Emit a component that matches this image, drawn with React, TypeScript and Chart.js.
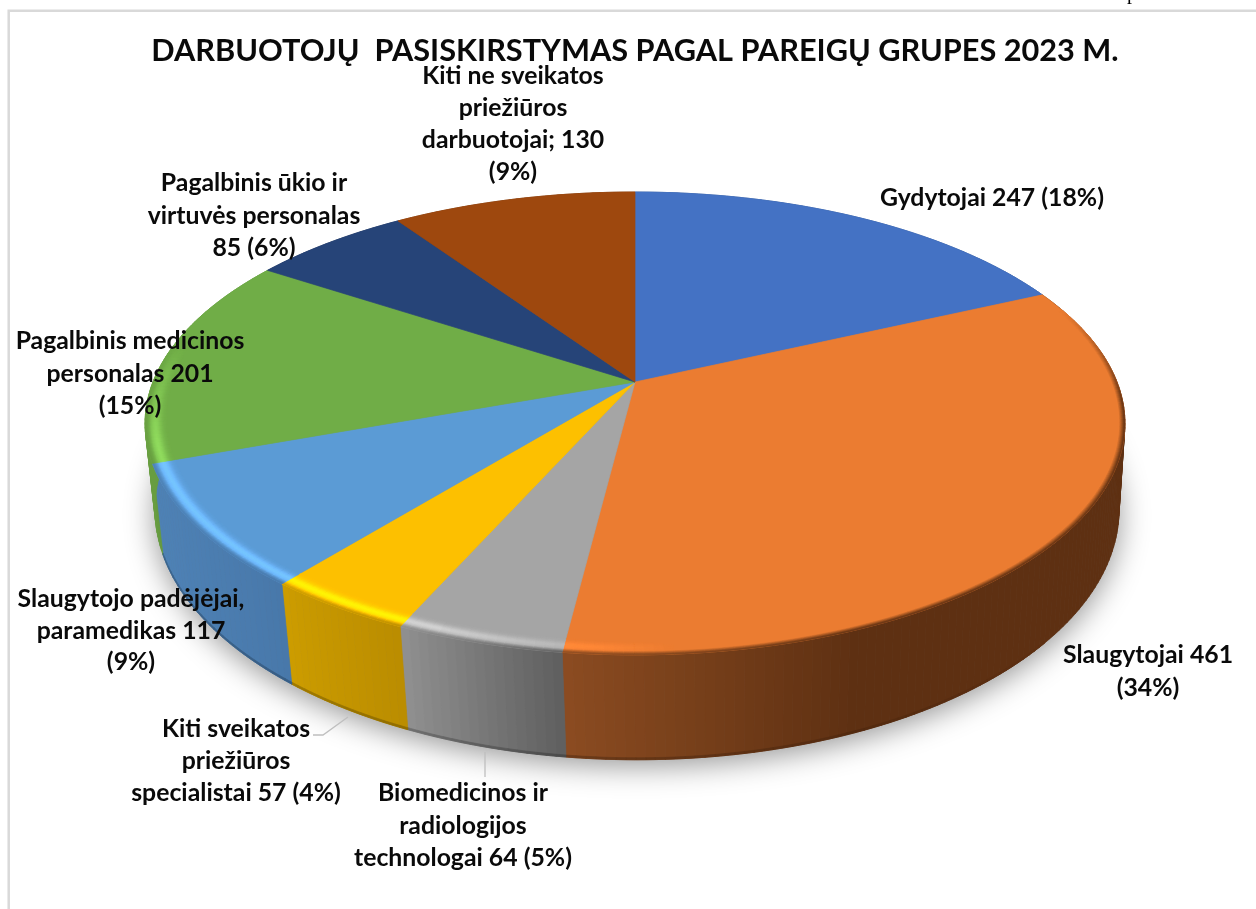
import React, { useEffect, useRef } from "react";
import { Chart, registerables } from "chart.js";

Chart.register(...registerables);

const categories = [
  "Gydytojai",
  "Slaugytojai",
  "Biomedicinos ir radiologijos technologai",
  "Kiti sveikatos priežiūros specialistai",
  "Slaugytojo padėjėjai, paramedikas",
  "Pagalbinis medicinos personalas",
  "Pagalbinis ūkio ir virtuvės personalas",
  "Kiti ne sveikatos priežiūros darbuotojai",
];
const values = [247, 461, 64, 57, 117, 201, 85, 130];
const topColors = ["#4472C4", "#EB7C31", "#A5A5A5", "#FDC000", "#5B9BD5", "#70AD47", "#264478", "#9E480E"];
const titleText = "DARBUOTOJŲ  PASISKIRSTYMAS PAGAL PAREIGŲ GRUPES 2023 M.";
const labelLines = [
  ["Gydytojai 247 (18%)"],
  ["Slaugytojai 461", "(34%)"],
  ["Biomedicinos ir", "radiologijos", "technologai 64 (5%)"],
  ["Kiti sveikatos", "priežiūros", "specialistai 57 (4%)"],
  ["Slaugytojo padėjėjai,", "paramedikas 117", "(9%)"],
  ["Pagalbinis medicinos", "personalas 201", "(15%)"],
  ["Pagalbinis ūkio ir", "virtuvės personalas", "85 (6%)"],
  ["Kiti ne sveikatos", "priežiūros", "darbuotojai; 130", "(9%)"],
];

// ---- styling / layout tables ----
const FONT = "Lato, Carlito, 'Open Sans', sans-serif";
const LABEL_SIZE = 24.8;
const labelPos = [
  { x: 992, y: 206, dy: 32 },
  { x: 1148, y: 663, dy: 33 },
  { x: 463, y: 801, dy: 32.5 },
  { x: 236, y: 737, dy: 32 },
  { x: 131, y: 607, dy: 31.5 },
  { x: 130, y: 349, dy: 32.5 },
  { x: 254, y: 191, dy: 32.5 },
  { x: 513, y: 84, dy: 32 },
];
const topDisk = { cx: 635, cy: 382, c: 482, b: 224, k: -0.179 };
const baseDisk = { cx: 637, cy: 467, c: 475, b: 243, k: -0.17 };
// side shade per slice: [xLeft, rgbLeft, xRight, rgbRight]
const sideShade: [number, number[], number, number[]][] = [
  [0, [50, 84, 145], 1256, [50, 84, 145]],
  [565, [140, 76, 33], 860, [94, 48, 18]],
  [405, [145, 145, 145], 565, [96, 96, 96]],
  [290, [204, 156, 0], 408, [186, 140, 0]],
  [153, [78, 130, 182], 290, [72, 120, 170]],
  [145, [106, 160, 66], 170, [96, 150, 60]],
  [0, [28, 50, 88], 1256, [28, 50, 88]],
  [0, [118, 54, 10], 1256, [118, 54, 10]],
];

const hexRgb = (h: string) => [1, 3, 5].map((i) => parseInt(h.slice(i, i + 2), 16));
const css = (c: number[]) => `rgb(${c.map((v) => Math.round(Math.min(255, Math.max(0, v)))).join(",")})`;
const mix = (a: number[], b: number[], t: number) => a.map((v, i) => v + (b[i] - v) * t);
const clamp01 = (t: number) => Math.max(0, Math.min(1, t));

function proj(d: typeof topDisk, a: number, r = 1) {
  const X = r * Math.cos(a);
  const Y = r * Math.sin(a);
  const den = 1 + d.k * Y;
  return { x: d.cx + (d.c * X) / den, y: d.cy + (d.b * Y) / den };
}
function sideColor(i: number, x: number) {
  const [x0, c0, x1, c1] = sideShade[i];
  return mix(c0, c1, clamp01((x - x0) / (x1 - x0)));
}
// strength of the bevel highlight, by clockwise degrees from the top of the pie
function glow(deg: number) {
  if (deg < 176 || deg > 280) return 0;
  if (deg < 200) return ((deg - 176) / 24) * 0.22;
  if (deg < 255) return 0.24;
  return ((280 - deg) / 25) * 0.24;
}
function edgeWeight(deg: number) {
  if (deg < 70 || deg > 280) return 0;
  if (deg < 95) return (deg - 70) / 25;
  if (deg > 262) return (280 - deg) / 18;
  return 1;
}

function quad(ctx: CanvasRenderingContext2D, p: { x: number; y: number }[], color: string) {
  ctx.beginPath();
  p.forEach((q, n) => (n ? ctx.lineTo(q.x, q.y) : ctx.moveTo(q.x, q.y)));
  ctx.closePath();
  ctx.fillStyle = color;
  ctx.strokeStyle = color;
  ctx.lineWidth = 0.7;
  ctx.fill();
  ctx.stroke();
}

const pie3d = {
  id: "pie3d",
  beforeDraw(chart: any) {
    const ctx: CanvasRenderingContext2D = chart.ctx;
    ctx.save();
    ctx.fillStyle = "#fff";
    ctx.fillRect(0, 0, chart.width, chart.height);
    ctx.strokeStyle = "#d9d9d9";
    ctx.lineWidth = 2.5;
    ctx.beginPath();
    ctx.moveTo(8.7, 909);
    ctx.lineTo(8.7, 10.7);
    ctx.lineTo(1256, 10.7);
    ctx.stroke();
    ctx.fillStyle = "#000";
    ctx.font = "20px 'Liberation Serif'";
    ctx.textAlign = "center";
    ctx.textBaseline = "alphabetic";
    ctx.fillText("p", 1132, -1);
    ctx.restore();
  },
  beforeDatasetsDraw(chart: any) {
    const ctx: CanvasRenderingContext2D = chart.ctx;
    const arcs = chart.getDatasetMeta(0).data;
    const STEP = Math.PI / 180;
    const samples = (arc: any) => {
      const { startAngle, endAngle } = arc.getProps(["startAngle", "endAngle"], true);
      const n = Math.max(2, Math.ceil((endAngle - startAngle) / STEP));
      return Array.from({ length: n + 1 }, (_, j) => startAngle + ((endAngle - startAngle) * j) / n);
    };
    const degOf = (a: number) => (((a + Math.PI / 2) * 180) / Math.PI + 720) % 360;

    ctx.save();
    // soft ground shadow
    ctx.save();
    ctx.shadowColor = "rgba(0,0,0,0.42)";
    ctx.shadowBlur = 30;
    ctx.shadowOffsetY = 6;
    ctx.beginPath();
    for (let d = 0; d < 360; d += 2) {
      const p = proj(baseDisk, (d * Math.PI) / 180);
      d ? ctx.lineTo(p.x, p.y) : ctx.moveTo(p.x, p.y);
    }
    ctx.closePath();
    ctx.fillStyle = "#777";
    ctx.fill();
    ctx.restore();

    // outer walls
    arcs.forEach((arc: any, i: number) => {
      const as = samples(arc);
      for (let j = 0; j + 1 < as.length; j++) {
        const a = proj(topDisk, as[j]);
        const b = proj(topDisk, as[j + 1]);
        const c = proj(baseDisk, as[j + 1]);
        const d = proj(baseDisk, as[j]);
        quad(ctx, [a, b, c, d], css(sideColor(i, (a.x + d.x) / 2)));
      }
    });
    // dark foot of the wall
    arcs.forEach((arc: any, i: number) => {
      const as = samples(arc);
      for (let j = 0; j + 1 < as.length; j++) {
        const w = clamp01((degOf(as[j]) - 130) / 50) * (degOf(as[j]) < 250 ? 1 : 0);
        if (!w) continue;
        const c = proj(baseDisk, as[j]);
        const d = proj(baseDisk, as[j + 1]);
        const col = mix(sideColor(i, c.x), [0, 0, 0], 0.22 * w);
        quad(ctx, [c, d, { x: d.x, y: d.y - 2 }, { x: c.x, y: c.y - 2 }], css(col));
      }
    });

    // top faces
    arcs.forEach((arc: any, i: number) => {
      const color = css(hexRgb(topColors[i]));
      const pts = [{ x: topDisk.cx, y: topDisk.cy }, ...samples(arc).map((a) => proj(topDisk, a))];
      quad(ctx, pts, color);
    });

    // bevel along the rim
    const BANDS = 24;
    const R0 = 0.952;
    arcs.forEach((arc: any, i: number) => {
      const base = hexRgb(topColors[i]);
      const as = samples(arc);
      for (let j = 0; j + 1 < as.length; j++) {
        const deg = degOf((as[j] + as[j + 1]) / 2);
        const w = edgeWeight(deg);
        if (!w) continue;
        const g = glow(deg);
        for (let b = 0; b < BANDS; b++) {
          const r0 = R0 + ((1 - R0) * b) / BANDS;
          const r1 = R0 + ((1 - R0) * (b + 1)) / BANDS;
          const r = (r0 + r1) / 2;
          const e = 1 - r;
          const bump = Math.exp(-Math.pow((e - 0.02) / 0.012, 2));
          const bright = base.map((v) => v * (1 + g * bump) + 24 * g * bump);
          const pm = proj(topDisk, as[j], r);
          const dark = clamp01((0.011 - e) / 0.011) * w;
          const col = mix(bright, sideColor(i, pm.x), dark);
          if (bump * g < 0.004 && dark <= 0) continue;
          quad(
            ctx,
            [proj(topDisk, as[j], r0), proj(topDisk, as[j + 1], r0), proj(topDisk, as[j + 1], r1), proj(topDisk, as[j], r1)],
            css(col)
          );
        }
      }
    });
    ctx.restore();
    return false;
  },
  afterDraw(chart: any) {
    const ctx: CanvasRenderingContext2D = chart.ctx;
    ctx.save();
    // leader lines
    ctx.strokeStyle = "#bfbfbf";
    ctx.lineWidth = 1.3;
    ctx.beginPath();
    ctx.moveTo(313, 735);
    ctx.lineTo(323, 735);
    ctx.lineTo(348, 717);
    ctx.moveTo(485, 752);
    ctx.lineTo(485, 777);
    ctx.stroke();
    // labels
    ctx.fillStyle = "#0a0a0a";
    ctx.font = `bold ${LABEL_SIZE}px ${FONT}`;
    ctx.textAlign = "center";
    ctx.textBaseline = "alphabetic";
    labelLines.forEach((lines, i) => {
      const p = labelPos[i];
      lines.forEach((t, n) => ctx.fillText(t, p.x, p.y + n * p.dy));
    });
    ctx.restore();
  },
};

export default function App() {
  const ref = useRef<HTMLCanvasElement>(null);
  useEffect(() => {
    const chart = new Chart(ref.current!, {
      type: "pie",
      data: {
        labels: categories,
        datasets: [{ data: values, backgroundColor: topColors, borderWidth: 0 }],
      },
      options: {
        responsive: false,
        animation: false,
        layout: { padding: { left: 14 } },
        plugins: {
          legend: { display: false },
          tooltip: { enabled: false },
          title: {
            display: true,
            text: titleText,
            color: "#0a0a0a",
            font: { family: FONT, size: 30.7, weight: "bold" },
            padding: { top: 33, bottom: 10 },
          },
        },
      },
      plugins: [pie3d as any],
    });
    return () => chart.destroy();
  }, []);
  return (
    <canvas
      ref={ref}
      width={1256}
      height={909}
      style={{ position: "absolute", left: 0, top: 0, width: 1256, height: 909, display: "block" }}
    />
  );
}
